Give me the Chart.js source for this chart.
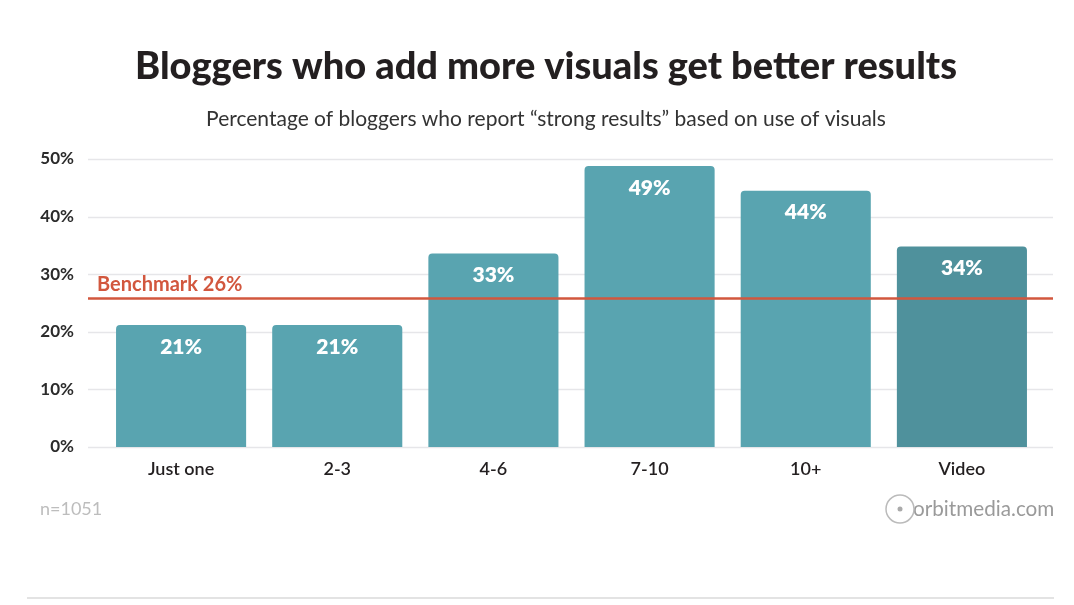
<!DOCTYPE html>
<html>
<head>
<meta charset="utf-8">
<script src="https://cdn.jsdelivr.net/npm/chart.js@4.4.1/dist/chart.umd.min.js"></script>
<style>
html,body{margin:0;padding:0;background:#fff;}
#wrap{position:relative;width:1074px;height:605px;}
</style>
</head>
<body>
<div id="wrap"><canvas id="c" width="1074" height="605"></canvas></div>
<script>
const categories = ["Just one", "2-3", "4-6", "7-10", "10+", "Video"];
const values = [21.2, 21.2, 33.6, 48.8, 44.5, 34.8];
const valueLabels = ["21%", "21%", "33%", "49%", "44%", "34%"];
const yTicks = [0, 10, 20, 30, 40, 50];
const benchmark = 25.8;
const benchmarkLabel = "Benchmark 26%";
const titleText = "Bloggers who add more visuals get better results";
const subtitleText = "Percentage of bloggers who report \u201cstrong results\u201d based on use of visuals";
const noteText = "n=1051";
const brandText = "orbitmedia.com";

const barColors = ["#59a4b0", "#59a4b0", "#59a4b0", "#59a4b0", "#59a4b0", "#4f919c"];

const decor = {
  id: 'decor',
  beforeDatasetsDraw(chart) {
    const ctx = chart.ctx, y = chart.scales.y;
    const L = 88, R = 1053;
    ctx.save();
    ctx.strokeStyle = '#e6e6e9';
    ctx.lineWidth = 1.5;
    yTicks.forEach(t => {
      const py = Math.round(y.getPixelForValue(t)) + 0.5;
      ctx.beginPath(); ctx.moveTo(L, py); ctx.lineTo(R, py); ctx.stroke();
    });
    ctx.restore();
  },
  afterDatasetsDraw(chart) {
    const ctx = chart.ctx, y = chart.scales.y;
    const L = 88, R = 1053;
    ctx.save();
    // benchmark line
    const by = y.getPixelForValue(benchmark);
    ctx.strokeStyle = '#d2573e';
    ctx.lineWidth = 2.5;
    ctx.beginPath(); ctx.moveTo(L, by); ctx.lineTo(R, by); ctx.stroke();
    ctx.fillStyle = '#d2573e';
    ctx.font = '700 20px Lato';
    ctx.textAlign = 'left'; ctx.textBaseline = 'alphabetic';
    ctx.fillText(benchmarkLabel, 97, by - 7);
    // value labels
    const meta = chart.getDatasetMeta(0);
    ctx.fillStyle = '#ffffff';
    ctx.font = '800 21px Lato';
    ctx.textAlign = 'center'; ctx.textBaseline = 'middle';
    meta.data.forEach((bar, i) => {
      ctx.fillText(valueLabels[i], bar.x, bar.y + 22);
    });
    // title & subtitle
    ctx.fillStyle = '#231f20';
    ctx.font = '900 38px Lato';
    ctx.textBaseline = 'middle';
    ctx.fillText(titleText, 546, 67);
    ctx.fillStyle = '#333333';
    ctx.font = '400 21px Lato';
    ctx.fillText(subtitleText, 546, 119);
    // footer
    ctx.textAlign = 'left';
    ctx.fillStyle = '#bdbdbd';
    ctx.font = '400 18px Lato';
    ctx.fillText(noteText, 40, 509);
    ctx.fillStyle = '#9a9a9a';
    ctx.font = '400 20.7px Lato';
    ctx.fillText(brandText, 913, 509);
    ctx.strokeStyle = '#bbbbbb';
    ctx.lineWidth = 1.5;
    ctx.beginPath(); ctx.arc(900, 509, 14, 0, Math.PI * 2); ctx.stroke();
    ctx.fillStyle = '#aaaaaa';
    ctx.beginPath(); ctx.arc(900, 509, 2.5, 0, Math.PI * 2); ctx.fill();
    ctx.strokeStyle = '#e3e3e3';
    ctx.lineWidth = 2;
    ctx.beginPath(); ctx.moveTo(27, 598); ctx.lineTo(1054, 598); ctx.stroke();
    ctx.restore();
  }
};

new Chart(document.getElementById('c'), {
  type: 'bar',
  data: {
    labels: categories,
    datasets: [{
      data: values,
      backgroundColor: barColors,
      borderRadius: {topLeft: 4, topRight: 4, bottomLeft: 0, bottomRight: 0},
      borderSkipped: false,
      categoryPercentage: 1.0,
      barPercentage: 0.833
    }]
  },
  options: {
    responsive: false,
    animation: false,
    devicePixelRatio: 1,
    layout: {padding: {top: 159, right: 34, bottom: 118, left: 0}},
    plugins: {legend: {display: false}, tooltip: {enabled: false}},
    scales: {
      x: {
        grid: {display: false, drawTicks: false},
        border: {display: false},
        ticks: {color: '#231f20', font: {family: 'Lato', size: 18, weight: '600'}, padding: 11},
        afterFit(s) { s.height = 40; }
      },
      y: {
        min: 0, max: 50,
        grid: {display: false, drawTicks: false},
        border: {display: false},
        ticks: {
          stepSize: 10,
          color: '#2b2b2b',
          font: {family: 'Lato', size: 17, weight: '700'},
          padding: 29,
          callback: v => v + '%'
        },
        afterFit(s) { s.width = 103; }
      }
    }
  },
  plugins: [decor]
});
</script>
</body>
</html>
